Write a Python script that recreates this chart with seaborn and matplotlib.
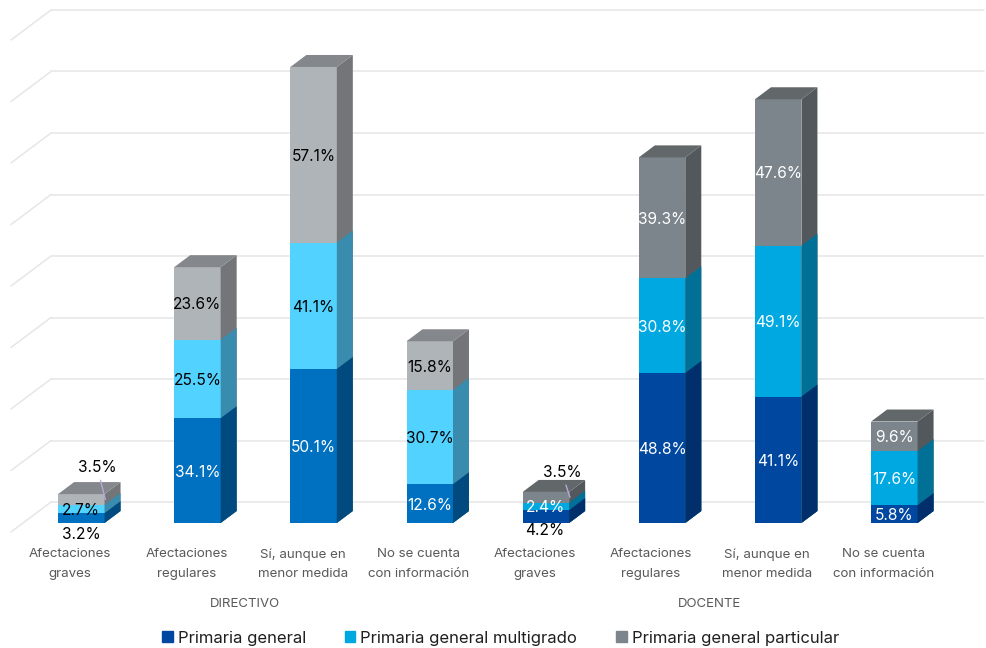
import matplotlib
matplotlib.use("Agg")
import matplotlib.pyplot as plt
from matplotlib.patches import Patch, Polygon
import numpy as np
import pandas as pd
import seaborn as sns

CATEGORIES = [
    "Afectaciones\ngraves", "Afectaciones\nregulares", "Sí, aunque en\nmenor medida", "No se cuenta\ncon información",
    "Afectaciones\ngraves", "Afectaciones\nregulares", "Sí, aunque en\nmenor medida", "No se cuenta\ncon información",
]
GROUPS = ["DIRECTIVO", "DOCENTE"]
SERIES = ["Primaria general", "Primaria general multigrado", "Primaria general particular"]
GENERAL = [3.2, 34.1, 50.1, 12.6, 4.2, 48.8, 41.1, 5.8]
MULTIGRADO = [2.7, 25.5, 41.1, 30.7, 2.4, 30.8, 49.1, 17.6]
PARTICULAR = [3.5, 23.6, 57.1, 15.8, 3.5, 39.3, 47.6, 9.6]
GRID_VALUES = [0, 20, 40, 60, 80, 100, 120, 140, 160]

FRONT = {
    "D": ["#0070C0", "#52D3FF", "#AFB4B8"],
    "T": ["#0047A0", "#00A8E2", "#7C858C"],
}
SIDE = {
    "D": ["#004A80", "#3A8CAE", "#737578"],
    "T": ["#002F6B", "#007097", "#53585C"],
}
TOP = {"D": "#84878B", "T": "#62676A"}
TEXT_COLORS = {"D": ["white", "black", "black"], "T": ["white", "white", "white"]}

W, H = 987, 648
PX_Y = 3.075   # pixels per percent point
PX_X = 116.15  # pixels per category
X0_PX = 81.3
BASE_PX = 523
FLOOR_PX = 533
DEPTH_X = 16 / PX_X
DEPTH_Y = 12 / PX_Y
LABEL_SIZE = 11.2
LABEL_DROP = 1.5 / PX_Y

sns.set_theme(style="white")
plt.rcParams["font.family"] = ["Inter", "DejaVu Sans"]

fig = plt.figure(figsize=(W / 100, H / 100), dpi=100)
ax = fig.add_axes([0, (H - FLOOR_PX) / H, 1, FLOOR_PX / H])
sns.despine(ax=ax, left=True, bottom=True)

values = np.array([GENERAL, MULTIGRADO, PARTICULAR])
tops = values.cumsum(axis=0)
df = pd.DataFrame({"pos": [str(i) for i in range(8)]})

# stack by painting the tallest cumulative bars first, shorter ones on top
seen = 0
for s in (2, 1, 0):
    df["top"] = tops[s]
    palette = [FRONT["D"][s]] * 4 + [FRONT["T"][s]] * 4
    sns.barplot(
        data=df, x="pos", y="top", hue="pos", palette=palette, dodge=False, legend=False,
        width=0.4, ax=ax, saturation=1, linewidth=0, zorder=3,
    )
    patches = sorted(ax.patches[seen:], key=lambda p: p.get_x())
    for i, patch in enumerate(patches):
        key = "D" if i < 4 else "T"
        x0 = patch.get_x()
        x1 = x0 + patch.get_width()
        y1 = patch.get_height()
        ax.add_patch(Polygon(
            [(x1, 0), (x1 + DEPTH_X, DEPTH_Y), (x1 + DEPTH_X, y1 + DEPTH_Y), (x1, y1)],
            facecolor=SIDE[key][s], edgecolor="none", zorder=3,
        ))
        if s == 2:
            ax.add_patch(Polygon(
                [(x0, y1), (x1, y1), (x1 + DEPTH_X, y1 + DEPTH_Y), (x0 + DEPTH_X, y1 + DEPTH_Y)],
                facecolor=TOP[key], edgecolor="none", zorder=3,
            ))
        value = values[s][i]
        center = y1 - value / 2
        cx = x0 + patch.get_width() / 2
        small = i in (0, 4)
        if small and s == 0:
            ax.annotate(f"{value:.1f}%", (cx, 0), xytext=(-1 if i == 4 else 0, -5.5 if i == 4 else -8),
                        textcoords="offset points", ha="center", va="center", fontsize=LABEL_SIZE,
                        color="black", zorder=5, annotation_clip=False)
        elif small and s == 2:
            ax.annotate(
                f"{value:.1f}%", (x1 + DEPTH_X * 0.05, center),
                xytext=(-5.8, 23 if i == 0 else 18), textcoords="offset points", ha="center", va="center",
                fontsize=LABEL_SIZE, color="black", zorder=5,
                arrowprops=dict(arrowstyle="-", color="#B9A6DC", lw=1, shrinkA=1.5, shrinkB=0),
            )
        else:
            ax.text(cx, center - LABEL_DROP, f"{value:.1f}%", ha="center", va="center", fontsize=LABEL_SIZE,
                    color=TEXT_COLORS[key][s], zorder=5)
    seen = len(ax.patches)

# back wall and left wall gridlines, set back from the bars
wall_x = (51 - X0_PX) / PX_X
wall_y = 21 / PX_Y
for v in GRID_VALUES:
    y = v + wall_y
    ax.plot([wall_x, (984 - X0_PX) / PX_X], [y, y], color="#E6E6E6", lw=1.1, zorder=1)
    ax.plot([wall_x, wall_x - 40 / PX_X], [y, y - 30 / PX_Y], color="#E6E6E6", lw=1.1, zorder=1)

ax.set_xlim(-X0_PX / PX_X, (W - X0_PX) / PX_X)
ax.set_ylim(-(FLOOR_PX - BASE_PX) / PX_Y, BASE_PX / PX_Y)
ax.set_yticks([])
ax.set_ylabel("")
ax.set_xlabel("")
ax.set_xticks([i - 0.095 for i in range(8)])
ax.set_xticklabels(CATEGORIES, fontsize=9.6, color="#595959", linespacing=1.85)
ax.tick_params(axis="x", length=0, pad=11)

for name, left in zip(GROUPS, (0, 4)):
    ax.annotate(name, (left + 1.5 - 0.095, 0), xycoords=("data", "axes fraction"), xytext=(0, -70 * 0.72 - 0.5),
                textcoords="offset points", ha="center", va="center", fontsize=9.5, color="#595959")

handles = [Patch(color=c, label=n) for c, n in zip(FRONT["T"], SERIES)]
fig.legend(
    handles=handles, loc="center", bbox_to_anchor=(500.5 / W, (H - 638) / H), ncol=3, frameon=False,
    fontsize=12, handlelength=0.65, handleheight=0.65, handletextpad=0.3, columnspacing=2.3,
    labelcolor="#1f1f1f",
)

fig.savefig("out.png", dpi=100, facecolor="white")
